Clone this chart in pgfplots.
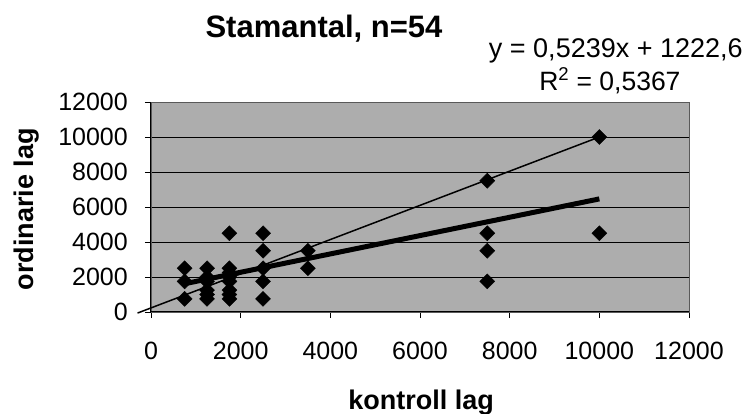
\documentclass[border=0pt]{standalone}
\usepackage{fontspec}
\setmainfont{Liberation Sans}
\usepackage{pgfplots}
\pgfplotsset{compat=1.18}
\begin{document}
\begin{tikzpicture}
\begin{axis}[
  at={(0,0)}, anchor=south west,
  scale only axis, width=538pt, height=210pt,
  xmin=0, xmax=12000, ymin=0, ymax=12000,
  xtick={0,2000,...,12000}, ytick={0,2000,...,12000},
  scaled ticks=false,
  /pgf/number format/1000 sep={},
  /pgf/number format/assume math mode=true,
  tick label style={font=\fontsize{25}{30}\selectfont, inner sep=0pt},
  tick align=outside, major tick length=6pt,
  xtick pos=bottom, ytick pos=left,
  tick style={black, line width=0.8pt},
  ymajorgrids, major grid style={black, line width=0.9pt},
  axis background/.style={fill=black!32},
  axis line style={draw=black!65, line width=0.8pt},
  xticklabel style={anchor=north, yshift=-24pt},
  yticklabel style={anchor=east, xshift=-17pt},
  xlabel={kontroll lag}, ylabel={ordinarie lag},
  xlabel style={font=\bfseries\fontsize{27}{32}\selectfont, at={(rel axis cs:0.502,-0.462)}, anchor=base},
  ylabel style={font=\bfseries\fontsize{27}{32}\selectfont, at={(rel axis cs:-0.219,0.49)}, anchor=base, rotate=0},
  clip=false,
]
\addplot[black, line width=1.5pt] coordinates {(-300,-60) (10000,10000)};
\addplot[black, line width=5pt] coordinates {(750,1615.5) (10000,6461.6)};
\addplot[only marks, mark=square*, mark size=5.3pt, mark options={rotate=45, fill=black, draw=black}] coordinates {
(750,750) (750,1750) (750,2500)
(1250,750) (1250,1000) (1250,1250) (1250,1750) (1250,2000) (1250,2500)
(1750,750) (1750,1000) (1750,1250) (1750,1750) (1750,2000) (1750,2250) (1750,2500) (1750,4500)
(2500,750) (2500,1750) (2500,2500) (2500,3500) (2500,4500)
(3500,2500) (3500,3500)
(7500,1750) (7500,3500) (7500,4500) (7500,7500)
(10000,4500) (10000,10000)
};
\draw[black, line width=1pt] (rel axis cs:0,1) -- (rel axis cs:0,0) -- (rel axis cs:1,0);
\node[font=\bfseries\fontsize{31}{36}\selectfont, anchor=base, inner sep=0pt] at (rel axis cs:0.3216,1.305) {Stamantal, n=54};
\node[font=\fontsize{27}{32}\selectfont, anchor=base, inner sep=0pt] at (rel axis cs:0.864,1.214) {y = 0,5239x + 1222,6};
\node[font=\fontsize{26.5}{31}\selectfont, anchor=base, inner sep=0pt] at (rel axis cs:0.853,1.057) {R\textsuperscript{2} = 0,5367};
\end{axis}
\pgfresetboundingbox
\useasboundingbox (-151pt,-102pt) rectangle (598pt,312pt);
\end{tikzpicture}
\end{document}
